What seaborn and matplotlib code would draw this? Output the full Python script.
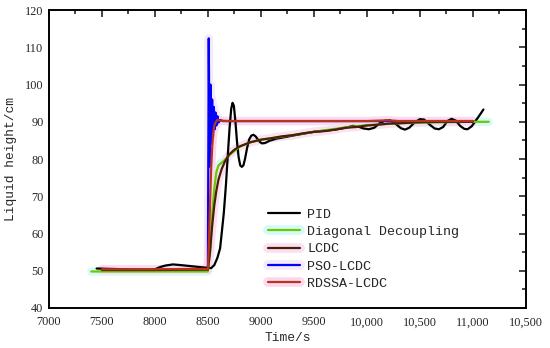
import numpy as np
import pandas as pd
import matplotlib
matplotlib.use("Agg")
import matplotlib.pyplot as plt
import matplotlib.patheffects as pe
from matplotlib.ticker import MultipleLocator
import seaborn as sns

# --- data (time in s, liquid height in cm) ---
pid_t = [7450, 7700, 7950, 8000, 8050, 8100, 8170, 8250, 8350, 8450, 8500, 8530,
         8560, 8590, 8615, 8630, 8650, 8670, 8690, 8705, 8720, 8733, 8745, 8760,
         8775, 8790, 8805, 8820, 8835, 8850, 8870, 8890, 8910, 8930, 8950, 8970,
         8990, 9010, 9040, 9080, 9150, 9210, 9300, 9400, 9500, 9600, 9700, 9800,
         9870, 9920, 9970, 10020, 10070, 10120, 10170, 10220, 10270, 10320, 10360,
         10400, 10450, 10500, 10540, 10590, 10640, 10680, 10720, 10760, 10800,
         10840, 10880, 10920, 10950, 10990, 11020, 11060, 11100]
pid_h = [50.6, 50.4, 50.3, 50.4, 51.0, 51.4, 51.7, 51.5, 51.2, 50.9, 50.8, 50.7,
         51.5, 53.5, 56.0, 60.0, 65.5, 73.0, 82.0, 88.5, 93.5, 95.1, 94.3, 90.0,
         84.5, 80.5, 78.3, 77.9, 78.3, 80.0, 83.0, 85.3, 86.3, 86.5, 86.1, 85.3,
         84.6, 84.2, 84.3, 84.9, 85.5, 85.8, 86.3, 86.8, 87.3, 87.6, 87.9, 88.4,
         88.9, 88.7, 88.2, 88.0, 88.4, 89.6, 90.3, 90.4, 89.5, 88.3, 87.9,
         88.4, 89.8, 90.7, 90.6, 89.3, 88.2, 88.0, 88.6, 90.2, 90.8,
         90.3, 88.9, 88.1, 88.0, 88.8, 90.0, 91.6, 93.3]

diag_t = [7400, 7500, 8000, 8500, 8520, 8540, 8560, 8580, 8600, 8620, 8650, 8700,
          8800, 8900, 9000, 9200, 9500, 9800, 10000, 10300, 10600, 11000, 11150]
diag_h = [49.8, 49.8, 49.8, 49.8, 55.0, 65.0, 72.0, 76.5, 78.3, 78.8, 79.5, 81.0,
          83.3, 84.5, 85.2, 86.0, 87.3, 88.5, 89.1, 89.6, 89.8, 90.0, 90.0]

lcdc_t = [7500, 8000, 8500, 8520, 8540, 8560, 8580, 8600, 8630, 8660, 8700, 8750,
          8800, 8900, 9000, 9100, 9200, 9300, 9400, 9500, 9600, 9700, 9800, 9900,
          10000, 10100, 10200, 10300, 10500, 10700, 11000]
lcdc_h = [50.2, 50.2, 50.3, 55.0, 62.0, 67.5, 71.5, 74.5, 77.3, 79.3, 81.2, 82.5,
          83.4, 84.5, 85.2, 85.6, 86.1, 86.4, 86.9, 87.3, 87.5, 87.9, 88.4, 88.6,
          89.0, 89.2, 89.5, 89.6, 89.9, 90.0, 90.0]

pso_t = [8500, 8508, 8516, 8524, 8532, 8540, 8548, 8556, 8564, 8572, 8580,
         8590, 8600, 8615, 8640, 11000]
pso_h = [50.5, 112.4, 78.0, 100.0, 84.0, 96.0, 86.0, 94.0, 88.0, 92.5, 89.0,
         91.5, 89.8, 90.5, 90.2, 90.2]

rdssa_t = [7500, 8000, 8500, 8510, 8520, 8530, 8540, 8550, 8560, 8575, 8590, 8620,
           8700, 9000, 10000, 10200, 10300, 11000]
rdssa_h = [50.4, 50.4, 50.5, 58.0, 68.0, 77.0, 83.0, 87.0, 89.0, 90.0, 90.5, 90.3,
           90.2, 90.2, 90.2, 90.4, 90.2, 90.2]

labels = ['PID', 'Diagonal Decoupling', 'LCDC', 'PSO-LCDC', 'RDSSA-LCDC']
colors = ['#000000', '#66cc00', '#4a1e08', '#0000ff', '#b8341c']
halos = [None, '#d8f9f9', '#fbe0f1', '#f4eaf8', '#fbd9ee']
xtick_vals = [7000, 7500, 8000, 8500, 9000, 9500, 10000, 10500, 11000, 11500]
xtick_text = ['7000', '7500', '8000', '8500', '9000', '9500',
              '10,000', '10,500', '11,000', '10,500']

series = [(pid_t, pid_h), (diag_t, diag_h), (lcdc_t, lcdc_h),
          (pso_t, pso_h), (rdssa_t, rdssa_h)]

sns.set_style("white")
plt.rcParams['font.family'] = ['Liberation Serif', 'DejaVu Serif']
mono = ['Liberation Mono', 'DejaVu Sans Mono']

fig = plt.figure(figsize=(5.5, 3.48), dpi=100)
ax = fig.add_axes([0.089, 0.115, 0.867, 0.856])

# soft glow behind the curves first, so that no curve is hidden by it
for (t, h), hc in zip(series, halos):
    if hc is None:
        continue
    df = pd.DataFrame({'Time': t, 'Height': h})
    sns.lineplot(data=df, x='Time', y='Height', ax=ax, color=hc, lw=6,
                 estimator=None, sort=False, legend=False, zorder=1,
                 solid_capstyle='round')

for (t, h), lab, c in zip(series, labels, colors):
    df = pd.DataFrame({'Time': t, 'Height': h})
    sns.lineplot(data=df, x='Time', y='Height', ax=ax, color=c, lw=1.6,
                 label=lab, estimator=None, sort=False, zorder=2)

ax.set_xlim(7000, 11500)
ax.set_ylim(40, 120)
ax.set_xticks(xtick_vals)
ax.set_xticklabels(xtick_text)
ax.xaxis.set_minor_locator(MultipleLocator(250))
ax.yaxis.set_major_locator(MultipleLocator(10))
ax.yaxis.set_minor_locator(MultipleLocator(5))
ax.tick_params(which='both', direction='in', top=True, right=True,
               labelsize=8.8, width=1.2)
ax.tick_params(axis='x', pad=6)
ax.tick_params(axis='y', pad=4)
ax.tick_params(which='major', length=5)
ax.tick_params(which='minor', length=3)
for s in ax.spines.values():
    s.set_linewidth(1.4)
    s.set_color('black')

ax.set_xlabel('Time/s', fontsize=9.3, family=mono, labelpad=3)
ax.set_ylabel('Liquid height/cm', fontsize=9.3, family=mono, labelpad=6)

leg = ax.legend(loc='upper left', bbox_to_anchor=(0.459, 0.335), frameon=False,
                prop={'family': mono, 'size': 9.6}, handlelength=2.4,
                handletextpad=0.55, labelspacing=0.38, borderpad=0,
                borderaxespad=0)
for line, hc in zip(leg.get_lines(), halos):
    if hc is not None:
        line.set_path_effects([pe.Stroke(linewidth=7, foreground=hc), pe.Normal()])

fig.savefig('out.png', dpi=100)
